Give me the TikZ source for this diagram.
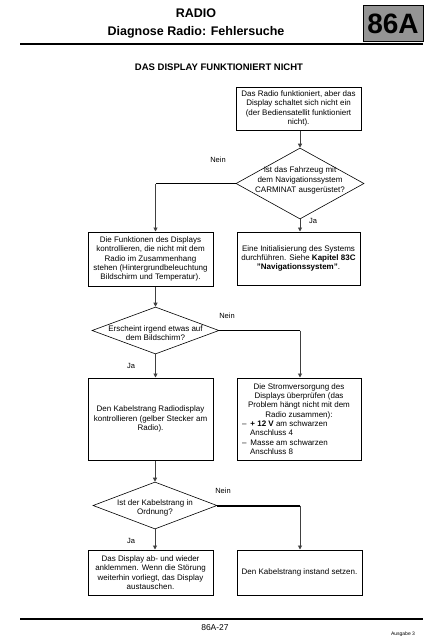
\documentclass[tikz,border=0pt]{standalone}
\usepackage{fontspec}
\setmainfont{Liberation Sans}
\usetikzlibrary{shapes.geometric,arrows.meta}
\begin{document}
\begin{tikzpicture}[x=1pt,y=-1pt,
  box/.style={draw=black,line width=1pt,minimum width=#1,inner sep=0pt,align=center,
    font=\fontsize{8}{9.3}\selectfont},
  box/.default=125pt,
  dia/.style={draw=black,line width=0.6pt,shape=diamond,inner sep=0pt},
  dtext/.style={align=center,font=\fontsize{8}{9.6}\selectfont},
  lbl/.style={font=\fontsize{7.5}{9}\selectfont,inner sep=0pt},
  arr/.style={draw=black!75,line width=0.9pt,-{Triangle[length=4pt,width=4pt]}},
  con/.style={draw=black,line width=0.8pt}]
\useasboundingbox (0,0) rectangle (443,640);
\fill[white] (0,0) rectangle (443,640);

% header
\node[anchor=base,font=\fontsize{12.5}{14}\bfseries] (h1) at (196,17.5) {RADIO};
\node[anchor=base,font=\fontsize{12.5}{14}\bfseries] (h2) at (196,35) {Diagnose Radio: Fehlersuche};
\node[draw=black,line width=0.8pt,fill=black!42,minimum width=60pt,minimum height=36pt,inner sep=0pt] (tag) at (393,23) {};
\node[anchor=base,font=\fontsize{28}{30}\bfseries,inner sep=0pt] (tagt) at (393,33) {86A};
\draw[line width=2pt] (20,44) -- (423,44);
\node[anchor=base,font=\fontsize{9.5}{11}\bfseries] (title) at (219,70) {DAS DISPLAY FUNKTIONIERT NICHT};

% nodes
\node[box,minimum height=43pt] (b1) at (298.5,108.5) {Das Radio funktioniert, aber das\\Display schaltet sich nicht ein\\(der Bediensatellit funktioniert\\nicht).};
\node[dia,minimum width=128pt,minimum height=71pt] (d1) at (300,183.5) {};
\node[dtext] (d1t) at (300,180.5) {Ist das Fahrzeug mit\\dem Navigationssystem\\CARMINAT ausgerüstet?};
\node[box,minimum height=54pt] (b2) at (150.5,259) {Die Funktionen des Displays\\kontrollieren, die nicht mit dem\\Radio im Zusammenhang\\stehen (Hintergrundbeleuchtung\\Bildschirm und Temperatur).};
\node[box,minimum width=123pt,minimum height=53pt] (b3) at (298.5,258.5) {Eine Initialisierung des Systems\\durchführen. Siehe \textbf{Kapitel 83C}\\\textbf{"Navigationssystem"}.};
\node[dia,minimum width=127pt,minimum height=47pt] (d2) at (155.5,330.5) {};
\node[dtext] (d2t) at (155.5,333) {Erscheint irgend etwas auf\\dem Bildschirm?};
\node[box,minimum height=82pt] (b5) at (150.5,419) {Den Kabelstrang Radiodisplay\\kontrollieren (gelber Stecker am\\Radio).};
\node[box,minimum width=124pt,minimum height=82pt] (b4) at (299,419) {\parbox{116pt}{\centering Die Stromversorgung des\\Displays überprüfen (das\\Problem hängt nicht mit dem\\Radio zusammen):\par
  \raggedright\hangindent=9pt\hangafter=1 \hspace*{1pt}–\hspace{4pt}\textbf{+ 12 V} am schwarzen\newline Anschluss 4\par
  \raggedright\hangindent=9pt\hangafter=1 \hspace*{1pt}–\hspace{4pt}Masse am schwarzen\newline Anschluss 8\par}};
\node[dia,minimum width=124pt,minimum height=47pt] (d3) at (155,505.5) {};
\node[dtext] (d3t) at (155,508) {Ist der Kabelstrang in\\Ordnung?};
\node[box,minimum height=45pt] (b6) at (150.5,572.5) {Das Display ab- und wieder\\anklemmen. Wenn die Störung\\weiterhin vorliegt, das Display\\austauschen.};
\node[box,minimum height=45pt] (b7) at (299.5,572.5) {Den Kabelstrang instand setzen.};

% labels
\node[lbl] (n1) at (218,160) {Nein};
\node[lbl] (j1) at (313,221) {Ja};
\node[lbl] (n2) at (227,316) {Nein};
\node[lbl] (j2) at (131,366) {Ja};
\node[lbl] (n3) at (223,491) {Nein};
\node[lbl] (j3) at (131,541) {Ja};

% connectors
\draw[arr] (d1.north |- b1.south) -- (d1.north);
\draw[con] (d1.west) -- (d1.west -| d2.north);
\draw[arr] (d1.west -| d2.north) -- (d2.north |- b2.north);
\draw[arr] (d1.south) -- (d1.south |- b3.north);
\draw[arr] (d2.north |- b2.south) -- (d2.north);
\draw[con] (d2.east) -- (d2.east -| d1.south);
\draw[arr] (d2.east -| d1.south) -- (d1.south |- b4.north);
\draw[arr] (d2.south) -- (d2.south |- b5.north);
\draw[arr] (d3.north |- b5.south) -- (d3.north);
\draw[line width=2pt] (d3.east) -- (d3.east -| d1.south);
\draw[arr] (d3.east -| d1.south) -- (d1.south |- b7.north);
\draw[arr] (d3.south) -- (d3.south |- b6.north);

% footer
\draw[line width=2pt] (20,619) -- (423,619);
\node[font=\fontsize{8.5}{10}\selectfont,inner sep=0pt] (page) at (215,628) {86A-27};
\node[font=\fontsize{5}{6}\selectfont,inner sep=0pt] (ausg) at (403,634) {Ausgabe 3};
\end{tikzpicture}
\end{document}
